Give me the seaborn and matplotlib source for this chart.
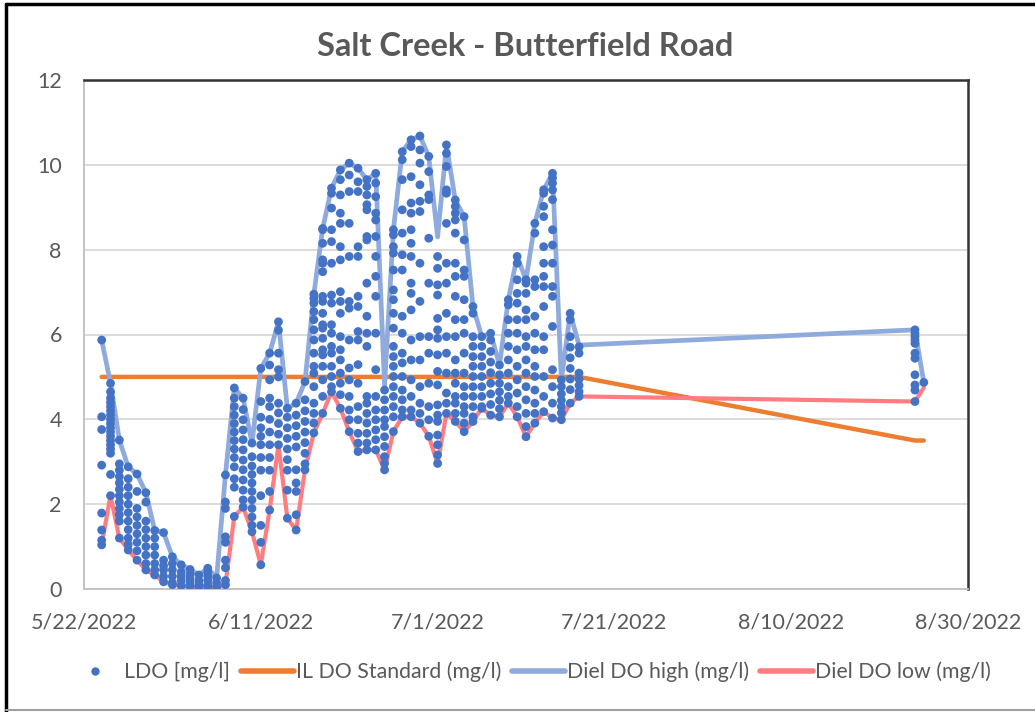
import pandas as pd
import matplotlib
matplotlib.use("Agg")
import matplotlib.pyplot as plt
from matplotlib.lines import Line2D
import seaborn as sns

# days with sonde readings (x positions of the dot columns)
days = list(pd.date_range("2022-05-24", "2022-07-17")) + [pd.Timestamp("2022-08-24"), pd.Timestamp("2022-08-25")]

diel_high = [5.87, 4.85, 3.51, 2.88, 2.71, 2.27, 1.38, 1.33, 0.76, 0.57, 0.46, 0.33, 0.49, 0.26,
             2.69, 4.74, 4.50, 3.44, 5.20, 5.56, 6.30, 4.26, 4.38, 4.89, 6.95, 8.50, 9.45, 9.88,
             10.04, 9.92, 9.65, 9.80, 4.80, 8.47, 10.31, 10.59, 10.68, 10.20, 8.30, 10.47, 9.17,
             8.78, 6.66, 5.95, 6.03, 5.28, 6.82, 7.84, 7.29, 8.62, 9.41, 9.80, 4.93, 6.50, 5.75,
             6.11, 4.87]

diel_low = [1.05, 2.20, 1.20, 0.92, 0.68, 0.45, 0.33, 0.17, 0.10, 0.08, 0.06, 0.05, 0.06, 0.05,
            0.10, 1.71, 1.93, 1.35, 0.57, 1.86, 3.40, 1.67, 1.39, 2.81, 3.68, 4.14, 4.65, 4.26,
            3.71, 3.24, 3.28, 3.28, 2.81, 3.71, 4.06, 4.06, 3.91, 3.60, 2.96, 4.14, 3.95, 3.71,
            3.95, 4.26, 4.10, 4.06, 4.38, 4.06, 3.59, 3.91, 4.18, 4.03, 3.99, 4.38, 4.54, 4.42,
            4.75]

standard_days = ["2022-05-24", "2022-07-17", "2022-08-24", "2022-08-25"]
standard_values = [5.0, 5.0, 3.5, 3.5]

# LDO readings per day
ldo_by_day = [
    [5.87, 4.06, 3.76, 2.92, 1.79, 1.39, 1.15, 1.04],
    [4.85, 4.65, 4.5, 4.4, 4.3, 4.2, 4.1, 4.0, 3.9, 3.8, 3.7, 3.6, 3.5, 3.4, 3.3, 3.2, 2.7, 2.2],
    [3.51, 2.95, 2.8, 2.65, 2.5, 2.35, 2.2, 2.05, 1.9, 1.75, 1.6, 1.2],
    [2.88, 2.6, 2.4, 2.2, 2.0, 1.8, 1.6, 1.4, 1.2, 1.05, 0.92],
    [2.71, 2.3, 1.9, 1.7, 1.5, 1.3, 1.1, 0.9, 0.68],
    [2.27, 2.05, 1.6, 1.4, 1.2, 1.0, 0.8, 0.6, 0.45],
    [1.38, 1.2, 1.0, 0.8, 0.6, 0.45, 0.33],
    [1.33, 0.68, 0.55, 0.45, 0.3, 0.17],
    [0.76, 0.6, 0.45, 0.3, 0.15, 0.1],
    [0.57, 0.4, 0.3, 0.2, 0.08],
    [0.46, 0.35, 0.25, 0.15, 0.06],
    [0.33, 0.2, 0.1, 0.05],
    [0.49, 0.4, 0.3, 0.2, 0.1, 0.06],
    [0.26, 0.15, 0.05],
    [2.69, 2.05, 1.9, 1.23, 1.1, 0.68, 0.5, 0.2, 0.1],
    [4.74, 4.5, 4.3, 4.1, 3.9, 3.7, 3.5, 3.3, 3.1, 2.88, 2.6, 2.4, 1.71],
    [4.5, 4.23, 3.99, 3.75, 3.52, 3.28, 3.04, 2.81, 2.57, 2.33, 2.1, 1.93],
    [3.44, 3.12, 2.9, 2.7, 2.5, 2.3, 2.1, 1.9, 1.7, 1.5, 1.35],
    [5.2, 4.42, 4.05, 3.8, 3.6, 3.4, 3.1, 2.8, 2.2, 1.5, 1.1, 0.57],
    [5.56, 5.28, 4.93, 4.5, 4.3, 4.0, 3.7, 3.4, 3.1, 2.8, 2.3, 1.86],
    [6.3, 6.1, 5.56, 5.17, 5.0, 4.38, 4.15, 3.9, 3.65, 3.4],
    [4.26, 4.05, 3.8, 3.55, 3.3, 3.05, 2.8, 2.33, 1.67],
    [4.38, 4.1, 3.85, 3.6, 3.35, 2.81, 2.5, 2.3, 1.75, 1.39],
    [4.89, 4.46, 4.2, 3.95, 3.7, 3.45, 3.2, 2.95, 2.81],
    [6.95, 6.85, 6.74, 6.54, 6.35, 6.11, 5.87, 5.56, 5.25, 5.09, 4.77, 4.38, 4.14, 3.91, 3.68],
    [8.5, 8.47, 8.15, 7.76, 7.68, 7.48, 6.9, 6.78, 6.5, 6.23, 6.15, 5.91, 5.64, 5.52, 5.25, 4.93, 4.54, 4.14],
    [9.45, 9.33, 8.98, 8.47, 8.19, 7.68, 6.93, 6.74, 6.23, 6.03, 5.72, 5.56, 5.25, 5.01, 4.77, 4.65],
    [9.88, 9.65, 9.29, 8.86, 8.62, 8.07, 7.76, 7.01, 6.78, 6.5, 5.95, 5.64, 5.4, 5.09, 4.85, 4.58, 4.26],
    [10.04, 9.76, 9.37, 8.62, 7.84, 6.78, 6.62, 5.87, 5.21, 4.93, 4.54, 4.22, 3.99, 3.71],
    [9.92, 9.6, 9.37, 8.07, 7.84, 6.9, 6.66, 6.07, 5.87, 5.29, 4.85, 4.3, 3.99, 3.67, 3.44, 3.24],
    [9.65, 9.49, 9.29, 9.06, 8.94, 8.31, 8.23, 7.21, 6.43, 6.03, 5.72, 4.54, 4.38, 4.14, 3.91, 3.67, 3.44, 3.28],
    [9.8, 9.57, 9.25, 8.86, 8.7, 8.31, 7.84, 7.37, 6.9, 6.03, 5.17, 4.54, 4.22, 3.99, 3.75, 3.52, 3.28],
    [4.69, 4.46, 4.22, 3.99, 3.83, 3.59, 3.36, 3.12, 2.96, 2.81],
    [8.47, 8.35, 8.07, 7.92, 7.52, 7.05, 6.82, 6.5, 6.15, 5.72, 5.48, 5.25, 5.01, 4.77, 4.54, 4.3, 4.06, 3.71],
    [10.31, 10.12, 9.65, 8.94, 8.39, 7.88, 7.52, 6.43, 6.03, 5.56, 5.33, 5.01, 4.69, 4.46, 4.22, 4.06],
    [10.59, 10.43, 9.72, 9.1, 8.86, 8.47, 8.15, 7.84, 7.21, 6.97, 6.58, 5.87, 5.4, 4.93, 4.54, 4.22, 4.06],
    [10.68, 10.35, 10.04, 9.53, 9.14, 8.9, 7.68, 6.78, 5.95, 5.4, 4.77, 4.38, 4.14, 3.91],
    [10.2, 9.84, 9.29, 9.18, 8.27, 7.21, 5.95, 5.56, 4.85, 4.3, 3.99, 3.6],
    [7.84, 7.56, 7.17, 6.93, 6.38, 6.11, 5.91, 5.52, 5.13, 4.81, 4.34, 4.1, 3.95, 3.63, 3.4, 3.16, 2.96],
    [10.47, 10.27, 9.96, 9.41, 9.33, 8.62, 7.68, 7.21, 6.5, 5.95, 5.56, 5.09, 4.62, 4.38, 4.14],
    [9.17, 9.02, 8.86, 8.7, 8.39, 7.68, 7.37, 6.9, 6.35, 5.95, 5.4, 5.09, 4.85, 4.54, 4.38, 4.14, 3.95],
    [8.78, 8.23, 7.52, 7.37, 6.82, 6.35, 6.03, 5.56, 5.09, 4.77, 4.54, 4.3, 4.14, 3.91, 3.71],
    [6.66, 6.5, 5.95, 5.72, 5.48, 5.25, 5.01, 4.77, 4.54, 4.3, 4.06, 3.95],
    [5.95, 5.72, 5.48, 5.25, 5.01, 4.77, 4.54, 4.3, 4.26],
    [6.03, 5.87, 5.6, 5.35, 5.1, 4.85, 4.6, 4.35, 4.1],
    [5.28, 5.05, 4.85, 4.65, 4.45, 4.25, 4.06],
    [6.82, 6.7, 6.35, 6.03, 5.72, 5.4, 5.09, 4.77, 4.54, 4.38],
    [7.84, 7.68, 7.29, 6.97, 6.74, 6.35, 6.03, 5.64, 5.25, 4.93, 4.62, 4.3, 4.06],
    [7.29, 7.21, 6.97, 6.58, 6.35, 5.95, 5.72, 5.4, 5.09, 4.77, 4.46, 4.14, 3.83, 3.59],
    [8.62, 8.39, 7.29, 7.13, 6.43, 6.03, 5.64, 5.25, 5.01, 4.69, 4.38, 4.14, 3.91],
    [9.41, 9.33, 9.02, 8.78, 8.07, 7.68, 7.37, 7.13, 6.66, 5.95, 5.64, 5.01, 4.54, 4.18],
    [9.8, 9.69, 9.57, 9.41, 9.18, 8.47, 8.11, 7.68, 7.13, 6.9, 6.19, 5.17, 4.77, 4.38, 4.03],
    [4.93, 4.77, 4.6, 4.45, 4.3, 4.15, 3.99],
    [6.5, 6.35, 5.95, 5.7, 5.45, 5.2, 4.95, 4.7, 4.38],
    [5.71, 5.56, 5.09, 4.95, 4.8, 4.65, 4.54],
    [6.11, 6.03, 5.95, 5.87, 5.79, 5.56, 5.44, 5.05, 4.81, 4.69, 4.42],
    [4.87],
]

tick_dates = ["2022-05-22", "2022-06-11", "2022-07-01", "2022-07-21", "2022-08-10", "2022-08-30"]

BLUE = "#4472C4"
ORANGE = "#ED7D31"
HIGH = "#8FAADC"
LOW = "#FF7C80"
GRAY = "#595959"

ldo = pd.DataFrame([(d, v) for d, vals in zip(days, ldo_by_day) for v in vals], columns=["date", "value"])
diel = pd.DataFrame({"date": days, "high": diel_high, "low": diel_low})
std = pd.DataFrame({"date": pd.to_datetime(standard_days), "value": standard_values})

sns.set_theme(style="white")
plt.rcParams["font.family"] = ["Lato", "DejaVu Sans"]

fig, ax = plt.subplots(figsize=(10.35, 7.12), dpi=100)
fig.subplots_adjust(left=84 / 1035, right=968 / 1035, bottom=1 - 589 / 712, top=1 - 80 / 712)

sns.lineplot(data=std, x="date", y="value", color=ORANGE, lw=3.2, estimator=None, sort=False, ax=ax, zorder=2)
sns.lineplot(data=diel, x="date", y="high", color=HIGH, lw=3.4, estimator=None, sort=False, ax=ax, zorder=3)
sns.lineplot(data=diel, x="date", y="low", color=LOW, lw=3.0, estimator=None, sort=False, ax=ax, zorder=3)
sns.scatterplot(data=ldo, x="date", y="value", color=BLUE, s=40, edgecolor="none", ax=ax, zorder=5)

ticks = pd.to_datetime(tick_dates)
ax.set_xlim(ticks[0], ticks[-1])
ax.set_xticks(ticks)
ax.set_xticklabels([f"{t.month}/{t.day}/{t.year}" for t in ticks])
ax.set_ylim(0, 12)
ax.set_yticks(range(0, 13, 2))
ax.set_xlabel("")
ax.set_ylabel("")
ax.tick_params(axis="both", length=0, labelsize=15.5, labelcolor=GRAY)
ax.tick_params(axis="x", pad=17)
ax.tick_params(axis="y", pad=16)
ax.yaxis.grid(True, color="#d9d9d9", lw=1.3)
ax.set_axisbelow(True)
for side in ["top", "right"]:
    ax.spines[side].set_color("#333333")
    ax.spines[side].set_linewidth(1.8)
for side in ["left", "bottom"]:
    ax.spines[side].set_color("#bfbfbf")
    ax.spines[side].set_linewidth(1.3)

fig.text(0.507, 1 - 47 / 712, "Salt Creek - Butterfield Road", ha="center", va="center",
         fontsize=23.5, fontweight="bold", color=GRAY)

handles = [
    Line2D([], [], marker="o", ls="", color=BLUE, ms=5),
    Line2D([], [], color=ORANGE, lw=4),
    Line2D([], [], color=HIGH, lw=4),
    Line2D([], [], color=LOW, lw=4),
]
labels = ["LDO [mg/l]", "IL DO Standard (mg/l)", "Diel DO high (mg/l)", "Diel DO low (mg/l)"]
fig.legend(handles, labels, loc="center", bbox_to_anchor=(0.512, 1 - 672 / 712), ncol=4, frameon=False,
           fontsize=15.3, labelcolor=GRAY, handlelength=2.5, handletextpad=0.1, columnspacing=0.5)

# outer frame of the screenshot
fig.add_artist(Line2D([6 / 1035, 1], [1 - 4 / 712, 1 - 4 / 712], transform=fig.transFigure, color="black", lw=2.5))
fig.add_artist(Line2D([6 / 1035, 6 / 1035], [0, 1 - 4 / 712], transform=fig.transFigure, color="black", lw=2.5))
fig.add_artist(Line2D([6 / 1035, 1], [2 / 712, 2 / 712], transform=fig.transFigure, color="#a0a0a0", lw=1.5))

fig.savefig("out.png", dpi=100)
